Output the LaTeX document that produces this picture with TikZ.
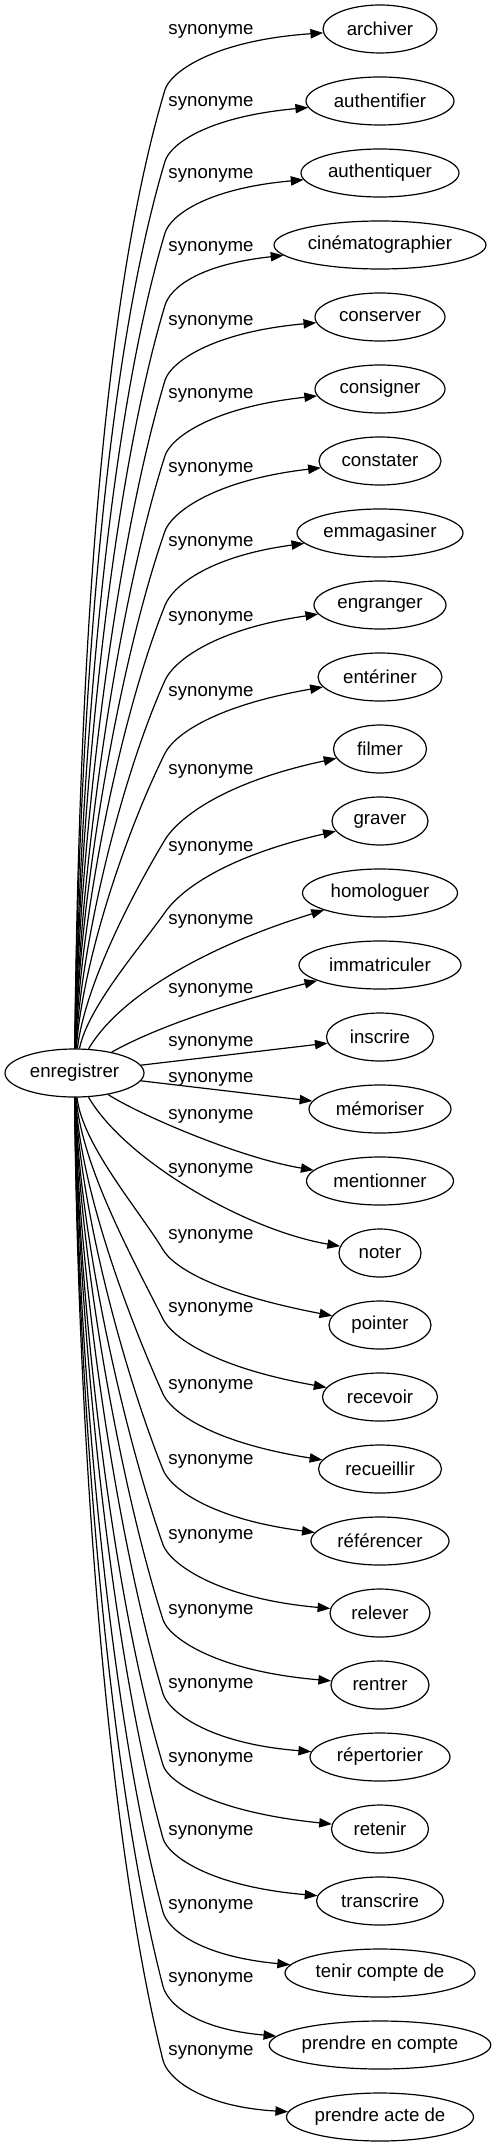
\documentclass[tikz,border=0pt]{standalone}
\usepackage{fontspec}
\setmainfont{Liberation Sans}
\usetikzlibrary{arrows.meta,shapes.geometric}
\begin{document}
\begin{tikzpicture}[x=0.75pt,y=-0.75pt,
  word/.style={draw, ellipse, line width=0.9pt, minimum height=36pt, inner sep=0pt, font=\fontsize{14pt}{16pt}\selectfont},
  rel/.style={inner sep=0pt, font=\fontsize{14pt}{16pt}\selectfont},
  syn/.style={line width=0.9pt, -{Triangle[length=9.5pt,width=7pt]}}]
\useasboundingbox (0,0) rectangle (496,2147);
\node[word, minimum width=104.25pt] (src) at (74.5,1073) {enregistrer};
\foreach \txt/\w [count=\i] in {archiver/114, authentifier/148, authentiquer/158, cinématographier/212, conserver/130, consigner/130, constater/122, emmagasiner/166, engranger/132, entériner/124, filmer/93, graver/96, homologuer/155, immatriculer/162, inscrire/107, mémoriser/142, mentionner/147, noter/82, pointer/102, recevoir/115, recueillir/123, référencer/138, relever/100, rentrer/98, répertorier/140, retenir/97, transcrire/127, tenir compte de/190, prendre en compte/221, prendre acte de/187}
  \node[word, minimum width=\w*0.75pt] (n\i) at (380,{29+72*(\i-1)}) {\txt};
\foreach \ly [count=\i] in {31.7, 103.3, 175, 248.3, 322.3, 395.7, 469, 543.3, 618.3, 693.3, 771.7, 848.3, 921.7, 990, 1043.3, 1079.3, 1116.7, 1170, 1236.7, 1309, 1386, 1461.7, 1536.7, 1611.7, 1685.7, 1759, 1832.3, 1906, 1979.3, 2052.3}
  \node[rel] (l\i) at (211,\ly) {synonyme};
\foreach \i/\dir/\ky/\sl/\arr/\sx/\tdy/\tlx in {
  1/-1/89.7/0.3/0.13/78/0/323,
  2/-1/161.3/0.3/0.19/78/0.7/306,
  3/-1/233/0.3/0.19/79/1/301,
  4/-1/305.3/0.3/0.24/79/5/274,
  5/-1/380.3/0.3/0.17/79/1/315,
  6/-1/455.7/0.32/0.19/80/2.7/315,
  7/-1/531/0.35/0.19/80/3/319,
  8/-1/605.3/0.4/0.23/81/7/297,
  9/-1/680.3/0.45/0.22/82/6.7/314,
  10/-1/753.3/0.5/0.24/83/9/318,
  11/-1/839.7/0.6/0.29/85/7.7/333.5,
  12/-1/912.3/0.7/0.31/88/9/332,
  19/1/1249.7/0.6/0.26/82/-8/329,
  20/1/1319/0.5/0.26/81/-7/322.5,
  21/1/1394/0.45/0.24/80/-6/318.5,
  22/1/1469.7/0.4/0.2/80/-6/311,
  23/1/1544.7/0.35/0.14/79/-2/330,
  24/1/1619.7/0.32/0.14/79/-1/331,
  25/1/1693.7/0.3/0.14/78/-2/310,
  26/1/1765/0.3/0.18/78/0/331.5,
  27/1/1838.3/0.28/0.17/78/0/316.5,
  28/1/1912/0.27/0.2/77/-3/285,
  29/1/1986.3/0.26/0.2/77/-4/269.5,
  30/1/2060.3/0.25/0.15/77/0/286.5}{
  \pgfmathsetmacro\ty{29+72*(\i-1)}
  \pgfmathsetmacro\sy{1073+24*(\dir)}
  \pgfmathsetmacro\hh{abs(\ky-\sy)}
  \pgfmathsetmacro\kx{164-(\dir)}
  \pgfmathsetmacro\cay{\sy+(\dir)*0.31*\hh}
  \pgfmathsetmacro\cbx{\kx-\sl*0.25*\hh}
  \pgfmathsetmacro\cby{\ky-(\dir)*0.25*\hh}
  \pgfmathsetmacro\ccx{\kx+\sl*17}
  \pgfmathsetmacro\ccy{\ky+(\dir)*17}
  \pgfmathsetmacro\cdx{\kx+0.3*(\tlx-\kx)}
  \pgfmathsetmacro\cdy{\ty+(\tdy)-(\dir)*0.8*\arr*(\tlx-\cdx)}
  \draw[syn] (src) .. controls (\sx,\cay) and (\cbx,\cby) .. (\kx,\ky) .. controls (\ccx,\ccy) and (\cdx,\cdy) .. (n\i);
}
\draw[syn] (src) .. controls (120,995) and (210,945) .. (n13);
\draw[syn] (src) .. controls (160,1025) and (240,1000) .. (n14);
\draw[syn] (src) -- (n15);
\draw[syn] (src) -- (n16);
\draw[syn] (src) .. controls (140,1115) and (240,1158) .. (n17);
\draw[syn] (src) .. controls (125,1160) and (245,1230) .. (n18);
\end{tikzpicture}
\end{document}
